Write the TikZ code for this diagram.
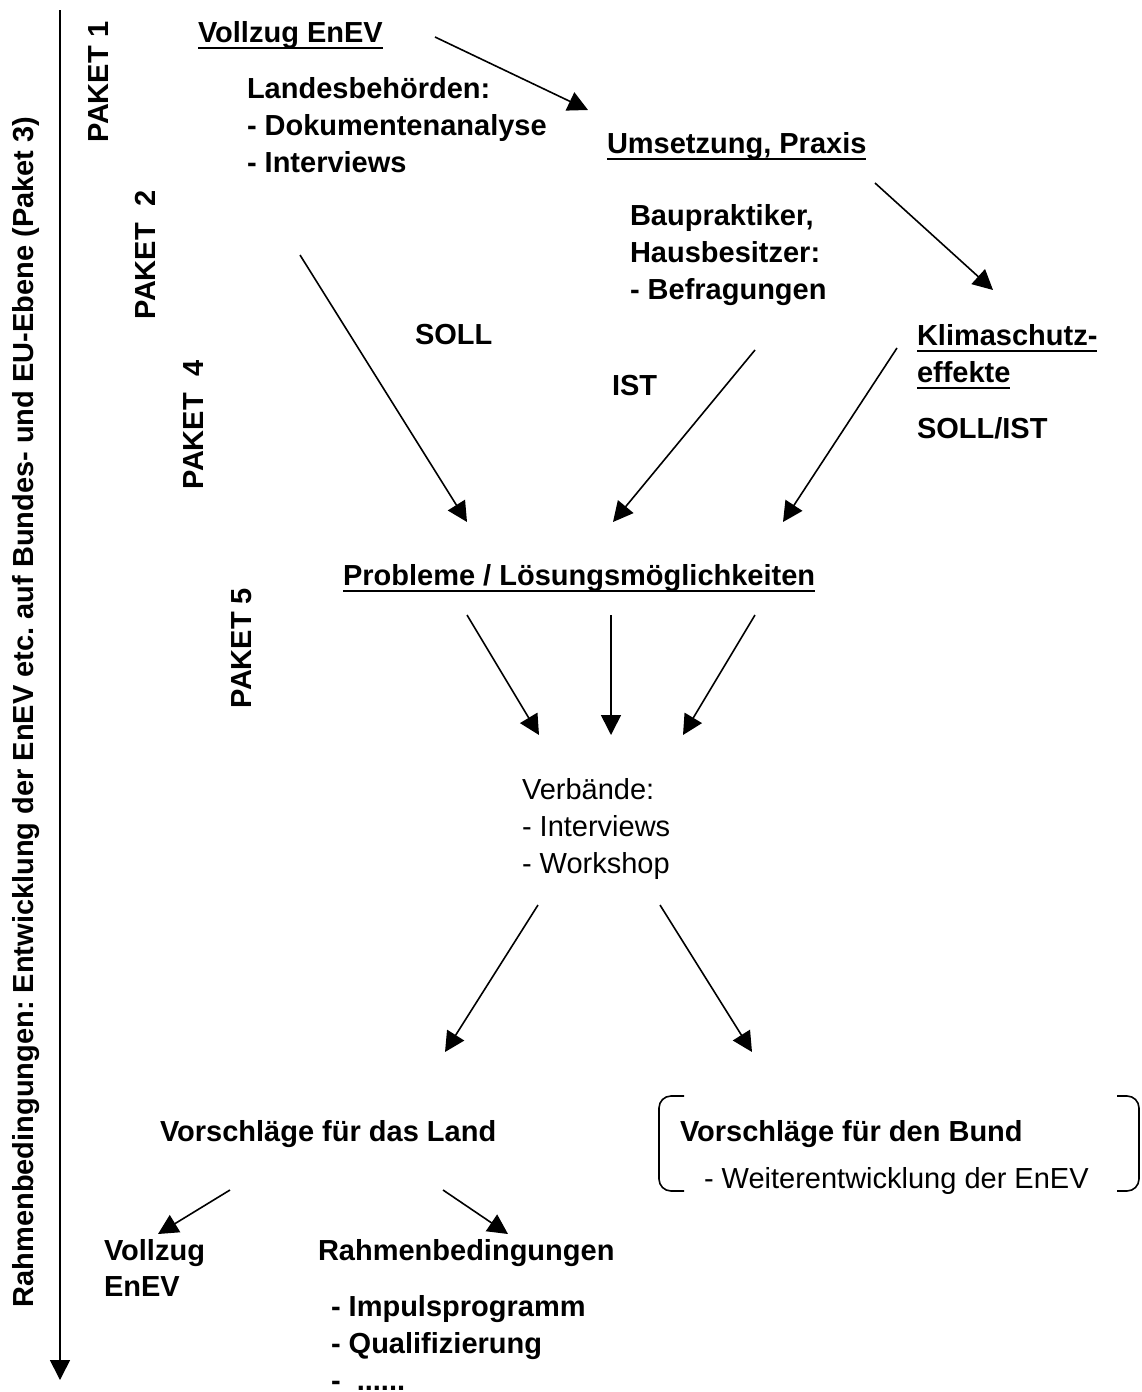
\documentclass[tikz,border=0pt]{standalone}
\usepackage{fontspec}
\setmainfont{Liberation Sans}
\usetikzlibrary{arrows.meta}
\frenchspacing
\newcommand\myul[1]{\setbox0\hbox{#1}\rlap{\rule[-7pt]{\wd0}{2.5pt}}\box0}
\begin{document}
\begin{tikzpicture}[x=1pt,y=-1pt,
  every node/.style={inner sep=0pt,outer sep=0pt},
  bt/.style={anchor=base west,font=\fontsize{29}{37}\selectfont\bfseries},
  rt/.style={anchor=base west,font=\fontsize{29}{37}\selectfont},
  pk/.style={rotate=90,anchor=base,font=\fontsize{29}{37}\selectfont\bfseries},
  arr/.style={line width=1.6pt,-{Triangle[length=20pt,width=20pt]}},
  brk/.style={line width=1.6pt,rounded corners=12pt}]
\useasboundingbox (0,0) rectangle (1142,1392);
\clip (0,0) rectangle (1142,1392);

% left axis
\coordinate (axtop) at (60,10);
\coordinate (axbot) at (60,1380);
\draw[arr] (axtop) -- (axbot);
\node[pk] (rahmen) at (33,712) {Rahmenbedingungen: Entwicklung der EnEV etc. auf Bundes- und EU-Ebene (Paket 3)};

% package labels
\node[pk] (p1) at (108,82) {PAKET 1};
\node[pk] (p2) at (155,255) {PAKET\ \ 2};
\node[pk] (p4) at (203,425) {PAKET\ \ 4};
\node[pk] (p5) at (251,648) {PAKET 5};

% top block
\node[bt] (vollzug) at (198,42) {\myul{Vollzug EnEV}};
\node[bt] (land1) at (247,98) {Landesbehörden:};
\node[bt] (land2) at (247,135) {- Dokumentenanalyse};
\node[bt] (land3) at (247,172) {- Interviews};

\node[bt] (umsetz) at (607,153) {\myul{Umsetzung, Praxis}};
\node[bt] (bau1) at (630,225) {Baupraktiker,};
\node[bt] (bau2) at (630,262) {Hausbesitzer:};
\node[bt] (bau3) at (630,299) {- Befragungen};

\node[bt] (soll) at (415,344) {SOLL};
\node[bt] (ist) at (612,395) {IST};
\node[bt] (klima1) at (917,345) {\myul{Klimaschutz-}};
\node[bt] (klima2) at (917,382) {\myul{effekte}};
\node[bt] (sollist) at (917,438) {SOLL/IST};

\node[bt] (probleme) at (343,585) {\myul{Probleme / Lösungsmöglichkeiten}};

\node[rt] (verb1) at (522,799) {Verbände:};
\node[rt] (verb2) at (522,836) {- Interviews};
\node[rt] (verb3) at (522,873) {- Workshop};

\node[bt] (vland) at (160,1141) {Vorschläge für das Land};
\node[bt] (vbund) at (680,1141) {Vorschläge für den Bund};
\node[rt] (weiter) at (704,1188) {- Weiterentwicklung der EnEV};
\draw[brk] (684,1096) -- (659,1096) -- (659,1191) -- (684,1191);
\draw[brk] (1117,1096) -- (1139,1096) -- (1139,1191) -- (1117,1191);

\node[bt] (vz1) at (104,1260) {Vollzug};
\node[bt] (vz2) at (104,1296) {EnEV};
\node[bt] (rb) at (318,1260) {Rahmenbedingungen};
\node[bt] (rb1) at (331,1316) {- Impulsprogramm};
\node[bt] (rb2) at (331,1353) {- Qualifizierung};
\node[bt] (rb3) at (331,1390) {-\ \ ......};

% arrow end points
\coordinate (a1s) at (435,37);   \coordinate (a1e) at (588,110);
\coordinate (a2s) at (875,183);  \coordinate (a2e) at (993,290);
\coordinate (a3s) at (300,255);  \coordinate (a3e) at (467,522);
\coordinate (a4s) at (755,350);  \coordinate (a4e) at (613,522);
\coordinate (a5s) at (897,348);  \coordinate (a5e) at (783,522);
\coordinate (a6s) at (467,615);  \coordinate (a6e) at (539,735);
\coordinate (a7s) at (611,615);  \coordinate (a7e) at (611,735);
\coordinate (a8s) at (755,615);  \coordinate (a8e) at (683,735);
\coordinate (a9s) at (538,905);  \coordinate (a9e) at (445,1052);
\coordinate (a10s) at (660,905); \coordinate (a10e) at (752,1052);
\coordinate (a11s) at (230,1190);\coordinate (a11e) at (158,1234);
\coordinate (a12s) at (443,1190);\coordinate (a12e) at (508,1234);

\foreach \i in {1,...,12} \draw[arr] (a\i s) -- (a\i e);
\end{tikzpicture}
\end{document}
